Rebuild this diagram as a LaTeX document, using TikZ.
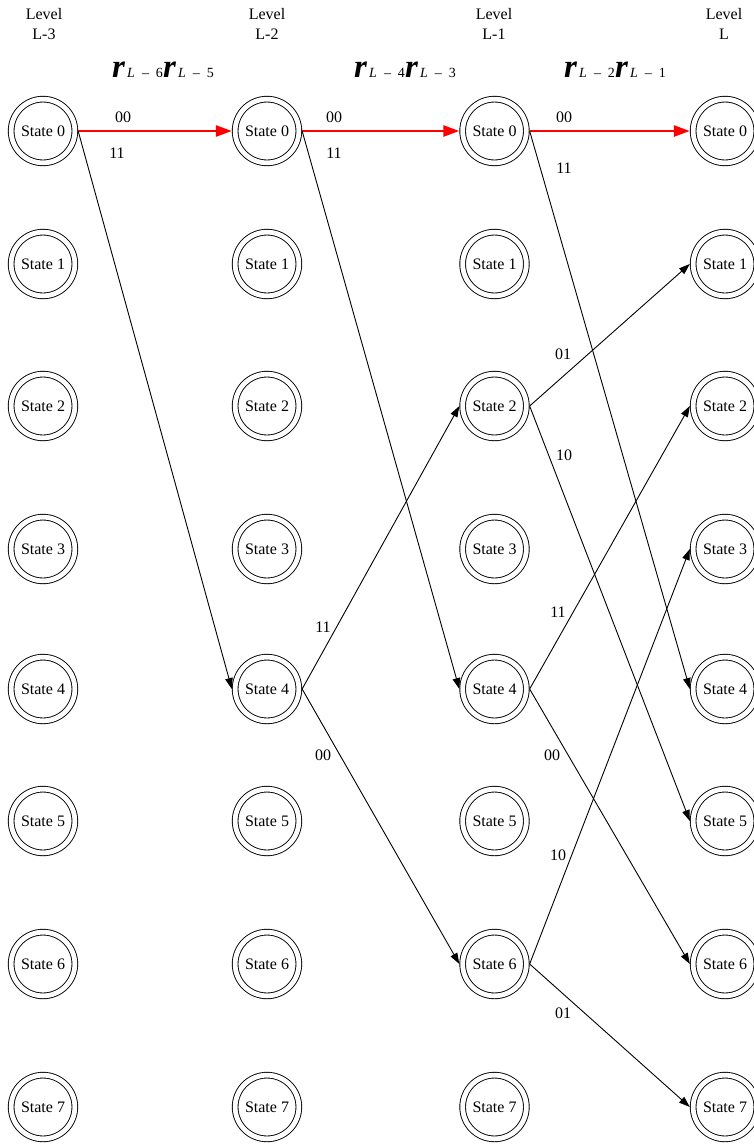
\documentclass[tikz,border=0pt]{standalone}
\usepackage{fontspec}
\setmainfont{Liberation Serif}
\usetikzlibrary{arrows.meta}

% one r_{L-i} symbol of the headings
\newcommand{\rsym}[1]{{\fontsize{33}{33}\selectfont\bfseries\itshape r}{\fontsize{14}{14}\selectfont\,\textit{L}\ \ –\ \ #1}}

\begin{document}
\begin{tikzpicture}[
x=1pt, y=-1pt,
state/.style={
circle, draw,
double, double distance=4.8pt,
line width=0.9pt,
minimum size=63.7pt,
inner sep=0pt, outer sep=3.3pt,
font=\rmfamily\fontsize{16}{18}\selectfont
},
lbl/.style={inner sep=0pt, font=\rmfamily\fontsize{16}{18}\selectfont},
level/.style={align=center, inner sep=0pt, font=\rmfamily\fontsize{16}{20.5}\selectfont},
edge/.style={line width=0.9pt, -{Triangle[length=11pt,width=7.5pt]}},
hot/.style={red, line width=2.6pt, -{Triangle[length=16pt,width=11pt]}}
]

\useasboundingbox (0,0) rectangle (754,1144);

% the four levels of states
\foreach \c/\x in {A/43,B/267,C/494.5,D/725}
  \foreach \y [count=\i from 0] in {131,264,406,549,689,821,964,1107}
    \node[state] (\c\i) at (\x,\y) {State \i};

\node[level] (lvA) at (44,24) {Level\\L-3};
\node[level] (lvB) at (267,24) {Level\\L-2};
\node[level] (lvC) at (494,24) {Level\\L-1};
\node[level] (lvD) at (724,24) {Level\\L};

\node[anchor=base, inner sep=0pt] (hdA) at (163,77.5) {\rsym{6}\rsym{5}};
\node[anchor=base, inner sep=0pt] (hdB) at (405,77.5) {\rsym{4}\rsym{3}};
\node[anchor=base, inner sep=0pt] (hdC) at (615,77.5) {\rsym{2}\rsym{1}};

% surviving path
\draw[hot] (A0.east) -- (B0.west);
\draw[hot] (B0.east) -- (C0.west);
\draw[hot] (C0.east) -- (D0.west);

% other branches
\draw[edge] (A0.east) -- (B4.west);
\draw[edge] (B0.east) -- (C4.west);
\draw[edge] (B4.east) -- (C2.west);
\draw[edge] (B4.east) -- (C6.west);
\draw[edge] (C0.east) -- (D4.west);
\draw[edge] (C2.east) -- (D1.west);
\draw[edge] (C2.east) -- (D5.west);
\draw[edge] (C4.east) -- (D2.west);
\draw[edge] (C4.east) -- (D6.west);
\draw[edge] (C6.east) -- (D3.west);
\draw[edge] (C6.east) -- (D7.west);

% branch labels
\foreach \x/\y/\t [count=\k] in {
123/117/00, 117/153/11,
334/117/00, 334/153/11, 323/627/11, 323/755/00,
564/117/00, 564/168/11, 563/354/01, 564/455/10,
558/612/11, 552/755/00, 558/855/10, 563/1013/01}
  \node[lbl] (lb\k) at (\x,\y) {\t};

\end{tikzpicture}
\end{document}
